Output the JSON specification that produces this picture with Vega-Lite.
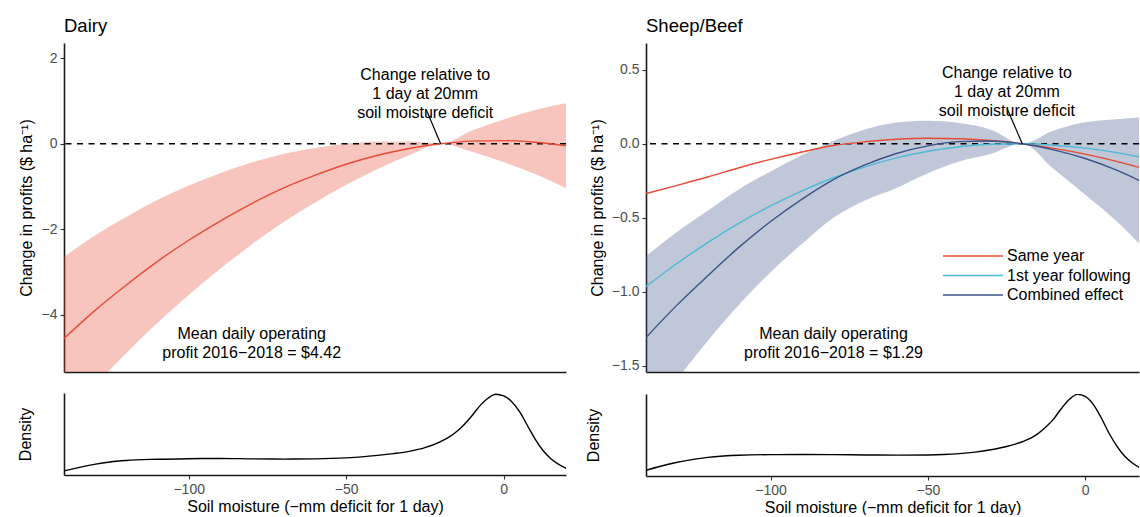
{
  "$schema": "https://vega.github.io/schema/vega-lite/v6.json",
  "background": "white",
  "padding": {"left": 17, "top": 16, "right": 0, "bottom": 0},
  "config": {
    "view": {"stroke": null},
    "font": "Liberation Sans",
    "axis": {
      "grid": false,
      "domainColor": "#1a1a1a",
      "domainWidth": 1.6,
      "tickColor": "#333333",
      "tickWidth": 1.1,
      "tickSize": 4,
      "labelColor": "#4d4d4d",
      "labelFontSize": 14,
      "labelPadding": 3,
      "labelFont": "Liberation Sans",
      "titleFont": "Liberation Sans",
      "titleFontSize": 16,
      "titleFontWeight": "normal",
      "titleColor": "black"
    },
    "title": {"font": "Liberation Sans", "fontSize": 18.5, "fontWeight": "normal", "anchor": "start", "frame": "group", "color": "black", "offset": 8},
    "text": {"font": "Liberation Sans", "fontSize": 16, "color": "black"}
  },
  "datasets": {
    "dairyFit": [
      {"x": -139.6, "fit": -4.56, "lower": -6.47, "upper": -2.65},
      {"x": -130, "fit": -3.92, "lower": -5.68, "upper": -2.16},
      {"x": -120, "fit": -3.32, "lower": -4.92, "upper": -1.72},
      {"x": -110, "fit": -2.76, "lower": -4.2, "upper": -1.32},
      {"x": -100, "fit": -2.26, "lower": -3.54, "upper": -0.98},
      {"x": -90, "fit": -1.81, "lower": -2.93, "upper": -0.69},
      {"x": -80, "fit": -1.4, "lower": -2.36, "upper": -0.44},
      {"x": -70, "fit": -1.04, "lower": -1.84, "upper": -0.24},
      {"x": -60, "fit": -0.74, "lower": -1.38, "upper": -0.1},
      {"x": -50, "fit": -0.48, "lower": -0.96, "upper": 0.0},
      {"x": -40, "fit": -0.27, "lower": -0.59, "upper": 0.05},
      {"x": -30, "fit": -0.11, "lower": -0.27, "upper": 0.05},
      {"x": -20, "fit": 0, "lower": 0, "upper": 0},
      {"x": -10, "fit": 0.061, "lower": -0.19, "upper": 0.31},
      {"x": 0, "fit": 0.074, "lower": -0.43, "upper": 0.57},
      {"x": 10, "fit": 0.036, "lower": -0.71, "upper": 0.79},
      {"x": 20, "fit": -0.051, "lower": -1.05, "upper": 0.95}
    ],
    "sheepBand": [
      {"x": -139.6, "lower": -1.86, "upper": -0.76},
      {"x": -130, "lower": -1.6, "upper": -0.6},
      {"x": -120, "lower": -1.333, "upper": -0.453},
      {"x": -110, "lower": -1.087, "upper": -0.307},
      {"x": -100, "lower": -0.868, "upper": -0.188},
      {"x": -90, "lower": -0.676, "upper": -0.076},
      {"x": -80, "lower": -0.5, "upper": 0.02},
      {"x": -70, "lower": -0.383, "upper": 0.097},
      {"x": -60, "lower": -0.3, "upper": 0.144},
      {"x": -50, "lower": -0.2, "upper": 0.156},
      {"x": -40, "lower": -0.12, "upper": 0.14},
      {"x": -30, "lower": -0.07, "upper": 0.095},
      {"x": -20, "lower": 0, "upper": 0},
      {"x": -10, "lower": -0.171, "upper": 0.089},
      {"x": 0, "lower": -0.345, "upper": 0.145},
      {"x": 10, "lower": -0.524, "upper": 0.166},
      {"x": 20, "lower": -0.738, "upper": 0.182}
    ],
    "sheepLines": [
      {"x": -139.6, "series": "Same year", "change": -0.337},
      {"x": -130, "series": "Same year", "change": -0.283},
      {"x": -120, "series": "Same year", "change": -0.225},
      {"x": -110, "series": "Same year", "change": -0.162},
      {"x": -100, "series": "Same year", "change": -0.106},
      {"x": -90, "series": "Same year", "change": -0.056},
      {"x": -80, "series": "Same year", "change": -0.012},
      {"x": -70, "series": "Same year", "change": 0.013},
      {"x": -60, "series": "Same year", "change": 0.03},
      {"x": -50, "series": "Same year", "change": 0.037},
      {"x": -40, "series": "Same year", "change": 0.034},
      {"x": -30, "series": "Same year", "change": 0.022},
      {"x": -20, "series": "Same year", "change": 0},
      {"x": -10, "series": "Same year", "change": -0.031},
      {"x": 0, "series": "Same year", "change": -0.07},
      {"x": 10, "series": "Same year", "change": -0.119},
      {"x": 20, "series": "Same year", "change": -0.177},
      {"x": -139.6, "series": "1st year following", "change": -0.965},
      {"x": -130, "series": "1st year following", "change": -0.813},
      {"x": -120, "series": "1st year following", "change": -0.668},
      {"x": -110, "series": "1st year following", "change": -0.537},
      {"x": -100, "series": "1st year following", "change": -0.42},
      {"x": -90, "series": "1st year following", "change": -0.318},
      {"x": -80, "series": "1st year following", "change": -0.23},
      {"x": -70, "series": "1st year following", "change": -0.156},
      {"x": -60, "series": "1st year following", "change": -0.096},
      {"x": -50, "series": "1st year following", "change": -0.051},
      {"x": -40, "series": "1st year following", "change": -0.02},
      {"x": -30, "series": "1st year following", "change": -0.003},
      {"x": -20, "series": "1st year following", "change": 0},
      {"x": -10, "series": "1st year following", "change": -0.01},
      {"x": 0, "series": "1st year following", "change": -0.03},
      {"x": 10, "series": "1st year following", "change": -0.06},
      {"x": 20, "series": "1st year following", "change": -0.101},
      {"x": -139.6, "series": "Combined effect", "change": -1.31},
      {"x": -130, "series": "Combined effect", "change": -1.096},
      {"x": -120, "series": "Combined effect", "change": -0.893},
      {"x": -110, "series": "Combined effect", "change": -0.699},
      {"x": -100, "series": "Combined effect", "change": -0.526},
      {"x": -90, "series": "Combined effect", "change": -0.374},
      {"x": -80, "series": "Combined effect", "change": -0.242},
      {"x": -70, "series": "Combined effect", "change": -0.143},
      {"x": -60, "series": "Combined effect", "change": -0.066},
      {"x": -50, "series": "Combined effect", "change": -0.014},
      {"x": -40, "series": "Combined effect", "change": 0.014},
      {"x": -30, "series": "Combined effect", "change": 0.019},
      {"x": -20, "series": "Combined effect", "change": 0},
      {"x": -10, "series": "Combined effect", "change": -0.041},
      {"x": 0, "series": "Combined effect", "change": -0.1},
      {"x": 10, "series": "Combined effect", "change": -0.179},
      {"x": 20, "series": "Combined effect", "change": -0.278}
    ],
    "dairyDensity": [
      {"x": -139.6, "density": 0.05}, {"x": -135, "density": 0.09}, {"x": -130, "density": 0.13},
      {"x": -125, "density": 0.16}, {"x": -120, "density": 0.178}, {"x": -110, "density": 0.193},
      {"x": -100, "density": 0.2}, {"x": -90, "density": 0.203}, {"x": -80, "density": 0.198},
      {"x": -70, "density": 0.195}, {"x": -60, "density": 0.198}, {"x": -50, "density": 0.21},
      {"x": -45, "density": 0.222}, {"x": -40, "density": 0.24}, {"x": -35, "density": 0.262},
      {"x": -30, "density": 0.29}, {"x": -25, "density": 0.335}, {"x": -20, "density": 0.41},
      {"x": -17.5, "density": 0.46}, {"x": -15, "density": 0.53}, {"x": -12.5, "density": 0.62},
      {"x": -10, "density": 0.73}, {"x": -7.5, "density": 0.85}, {"x": -5, "density": 0.94},
      {"x": -2.5, "density": 0.99}, {"x": 0, "density": 0.97}, {"x": 2.5, "density": 0.9},
      {"x": 5, "density": 0.78}, {"x": 7.5, "density": 0.61}, {"x": 10, "density": 0.44},
      {"x": 12.5, "density": 0.3}, {"x": 15, "density": 0.2}, {"x": 17.5, "density": 0.13},
      {"x": 20, "density": 0.08}
    ],
    "sheepDensity": [
      {"x": -139.6, "density": 0.07}, {"x": -135, "density": 0.12}, {"x": -130, "density": 0.165},
      {"x": -125, "density": 0.2}, {"x": -120, "density": 0.228}, {"x": -115, "density": 0.245},
      {"x": -110, "density": 0.255}, {"x": -100, "density": 0.262}, {"x": -90, "density": 0.263},
      {"x": -80, "density": 0.262}, {"x": -70, "density": 0.258}, {"x": -60, "density": 0.256},
      {"x": -50, "density": 0.258}, {"x": -45, "density": 0.263}, {"x": -40, "density": 0.274},
      {"x": -35, "density": 0.293}, {"x": -30, "density": 0.322}, {"x": -25, "density": 0.362},
      {"x": -20, "density": 0.42}, {"x": -17.5, "density": 0.46}, {"x": -15, "density": 0.52},
      {"x": -12.5, "density": 0.6}, {"x": -10, "density": 0.7}, {"x": -7.5, "density": 0.83},
      {"x": -5, "density": 0.94}, {"x": -2.5, "density": 1.0}, {"x": 0, "density": 0.975},
      {"x": 2.5, "density": 0.88}, {"x": 5, "density": 0.72}, {"x": 7.5, "density": 0.53},
      {"x": 10, "density": 0.37}, {"x": 12.5, "density": 0.245}, {"x": 15, "density": 0.16},
      {"x": 17.5, "density": 0.1}, {"x": 20, "density": 0.065}
    ]
  },
  "align": "none",
  "spacing": 18,
  "hconcat": [
    {
      "spacing": 21,
      "vconcat": [
        {
          "title": "Dairy",
          "width": 502,
          "height": 329,
          "layer": [
            {
              "data": {"name": "dairyFit"},
              "mark": {"type": "area", "color": "#E64B35", "opacity": 0.32, "interpolate": "monotone", "clip": true},
              "encoding": {
                "x": {"field": "x", "type": "quantitative", "scale": {"domain": [-139.6, 19.8], "nice": false, "zero": false}, "axis": {"title": null, "labels": false, "ticks": false}},
                "y": {"field": "lower", "type": "quantitative", "scale": {"domain": [-5.346, 2.36], "nice": false, "zero": false}, "axis": {"title": "Change in profits ($ ha⁻¹)", "values": [-4, -2, 0, 2], "titlePadding": 7}},
                "y2": {"field": "upper"}
              }
            },
            {
              "data": {"values": [{}]},
              "mark": {"type": "rule", "color": "black", "strokeWidth": 1.3, "strokeDash": [6, 5.5]},
              "encoding": {"y": {"datum": 0}}
            },
            {
              "data": {"name": "dairyFit"},
              "mark": {"type": "line", "color": "#E64B35", "strokeWidth": 1.4, "interpolate": "monotone", "clip": true},
              "encoding": {
                "x": {"field": "x", "type": "quantitative"},
                "y": {"field": "fit", "type": "quantitative"}
              }
            },
            {
              "data": {"values": [{}]},
              "mark": {"type": "rule", "color": "black", "strokeWidth": 1.2},
              "encoding": {"x": {"datum": -24.6}, "x2": {"datum": -20}, "y": {"datum": 0.8}, "y2": {"datum": 0}}
            },
            {
              "data": {"values": [{}]},
              "mark": {"type": "text", "lineBreak": "\n", "lineHeight": 19, "align": "center", "baseline": "middle"},
              "encoding": {"x": {"datum": -24.9}, "y": {"datum": 1.6}, "text": {"value": "Change relative to\n1 day at 20mm\nsoil moisture deficit"}}
            },
            {
              "data": {"values": [{}]},
              "mark": {"type": "text", "lineBreak": "\n", "lineHeight": 19, "align": "center", "baseline": "middle"},
              "encoding": {"x": {"datum": -80}, "y": {"datum": -4.464}, "text": {"value": "Mean daily operating\nprofit 2016−2018 = $4.42"}}
            }
          ]
        },
        {
          "width": 502,
          "height": 82,
          "data": {"name": "dairyDensity"},
          "mark": {"type": "line", "color": "black", "strokeWidth": 1.4, "interpolate": "monotone", "clip": true},
          "encoding": {
            "x": {"field": "x", "type": "quantitative", "scale": {"domain": [-139.6, 19.8], "nice": false, "zero": false}, "axis": {"values": [-100, -50, 0], "title": "Soil moisture (−mm deficit for 1 day)", "titlePadding": 2}},
            "y": {"field": "density", "type": "quantitative", "scale": {"domain": [0, 1.005], "nice": false}, "axis": {"title": "Density", "labels": false, "ticks": false, "titlePadding": 31}}
          }
        }
      ]
    },
    {
      "spacing": 21,
      "vconcat": [
        {
          "title": "Sheep/Beef",
          "width": 493,
          "height": 329,
          "layer": [
            {
              "data": {"name": "sheepBand"},
              "mark": {"type": "area", "color": "#3C5488", "opacity": 0.33, "interpolate": "monotone", "clip": true},
              "encoding": {
                "x": {"field": "x", "type": "quantitative", "scale": {"domain": [-139.6, 17.1], "nice": false, "zero": false}, "axis": {"title": null, "labels": false, "ticks": false}},
                "y": {"field": "lower", "type": "quantitative", "scale": {"domain": [-1.543, 0.681], "nice": false, "zero": false}, "axis": {"title": "Change in profits ($ ha⁻¹)", "values": [-1.5, -1, -0.5, 0, 0.5], "format": ".1f", "titlePadding": 6}},
                "y2": {"field": "upper"}
              }
            },
            {
              "data": {"values": [{}]},
              "mark": {"type": "rule", "color": "black", "strokeWidth": 1.3, "strokeDash": [6, 5.5]},
              "encoding": {"y": {"datum": 0}}
            },
            {
              "data": {"name": "sheepLines"},
              "mark": {"type": "line", "strokeWidth": 1.4, "interpolate": "monotone", "clip": true},
              "encoding": {
                "x": {"field": "x", "type": "quantitative"},
                "y": {"field": "change", "type": "quantitative"},
                "color": {
                  "field": "series",
                  "type": "nominal",
                  "sort": ["Same year", "1st year following", "Combined effect"],
                  "scale": {"domain": ["Same year", "1st year following", "Combined effect"], "range": ["#E64B35", "#4DBBD5", "#3C5488"]},
                  "legend": {
                    "orient": "none",
                    "legendX": 926,
                    "legendY": 205,
                    "title": null,
                    "padding": 0,
                    "symbolType": "M-11,0H1",
                    "symbolSize": 100,
                    "symbolStrokeWidth": 1.6,
                    "labelFontSize": 16,
                    "labelColor": "black",
                    "labelFont": "Liberation Sans",
                    "labelOffset": 1,
                    "rowPadding": 3.5
                  }
                }
              }
            },
            {
              "data": {"values": [{}]},
              "mark": {"type": "rule", "color": "black", "strokeWidth": 1.2},
              "encoding": {"x": {"datum": -24.8}, "x2": {"datum": -20}, "y": {"datum": 0.236}, "y2": {"datum": 0}}
            },
            {
              "data": {"values": [{}]},
              "mark": {"type": "text", "lineBreak": "\n", "lineHeight": 19, "align": "center", "baseline": "middle"},
              "encoding": {"x": {"datum": -24.9}, "y": {"datum": 0.475}, "text": {"value": "Change relative to\n1 day at 20mm\nsoil moisture deficit"}}
            },
            {
              "data": {"values": [{}]},
              "mark": {"type": "text", "lineBreak": "\n", "lineHeight": 19, "align": "center", "baseline": "middle"},
              "encoding": {"x": {"datum": -80}, "y": {"datum": -1.289}, "text": {"value": "Mean daily operating\nprofit 2016−2018 = $1.29"}}
            }
          ]
        },
        {
          "width": 493,
          "height": 82,
          "data": {"name": "sheepDensity"},
          "mark": {"type": "line", "color": "black", "strokeWidth": 1.4, "interpolate": "monotone", "clip": true},
          "encoding": {
            "x": {"field": "x", "type": "quantitative", "scale": {"domain": [-139.6, 17.1], "nice": false, "zero": false}, "axis": {"values": [-100, -50, 0], "title": "Soil moisture (−mm deficit for 1 day)", "titlePadding": 2}},
            "y": {"field": "density", "type": "quantitative", "scale": {"domain": [0, 1.005], "nice": false}, "axis": {"title": "Density", "labels": false, "ticks": false, "titlePadding": 45}}
          }
        }
      ]
    }
  ]
}
